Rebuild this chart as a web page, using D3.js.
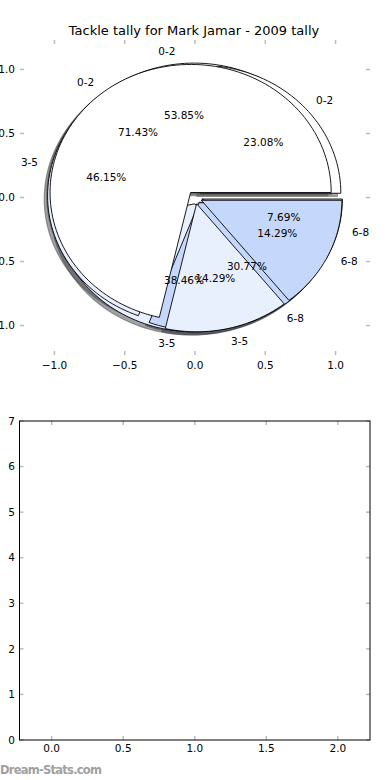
<!DOCTYPE html>
<html>
<head>
<meta charset="utf-8">
<script src="https://cdn.jsdelivr.net/npm/d3@7"></script>
<style>
  body { margin: 0; background: #fff; }
  text { font-family: "DejaVu Sans", sans-serif; fill: #000; }
</style>
</head>
<body>
<div id="chart"></div>
<script>
// tackle brackets and the three tallies (drawn in this order)
var categories = ['0-2', '3-5', '6-8'];
var tallyA = [7, 5, 1];
var tallyC = [3, 6, 4];
var tallyB = [5, 1, 1];
var sliceColors = ['#ffffff', '#e9f0fd', '#c5d8fb'];
var explode = [0.05, 0.05, 0.05];

var pieXTicks = [-1.0, -0.5, 0.0, 0.5, 1.0];
var pieYTicks = [-1.0, -0.5, 0.0, 0.5, 1.0];
var barXTicks = [0.0, 0.5, 1.0, 1.5, 2.0];
var barYTicks = [0, 1, 2, 3, 4, 5, 6, 7];

var title = 'Tackle tally for Mark Jamar - 2009 tally';
var width = 390, height = 780;

var svg = d3.select('#chart').append('svg')
  .attr('width', width)
  .attr('height', height);

// ---- top: the pies ----
var x = d3.scaleLinear().domain([-1.245, 1.245]).range([20, 370]);
var y = d3.scaleLinear().domain([-1.23, 1.23]).range([355, 40]);

svg.append('text')
  .attr('x', 194).attr('y', 35)
  .attr('text-anchor', 'middle')
  .style('font-size', '13px')
  .text(title);

function wedgePath(cx, cy, a0, a1) {
  var pts = [[cx, cy]];
  var n = Math.max(2, Math.ceil((a1 - a0) / 2));
  for (var i = 0; i <= n; i++) {
    var a = (a0 + (a1 - a0) * i / n) * Math.PI / 180;
    pts.push([cx + Math.cos(a), cy + Math.sin(a)]);
  }
  return d3.line().x(function(p) { return x(p[0]); })
    .y(function(p) { return y(p[1]); })(pts) + 'Z';
}

// matplotlib style wedges: counter-clockwise from 3 o'clock
function slices(tally) {
  var total = d3.sum(tally), acc = 0;
  return tally.map(function(v, i) {
    var a0 = acc / total * 360;
    acc += v;
    var a1 = acc / total * 360;
    var mid = (a0 + a1) / 2 * Math.PI / 180;
    return {
      cat: categories[i], color: sliceColors[i],
      a0: a0, a1: a1, mid: mid,
      cx: explode[i] * Math.cos(mid), cy: explode[i] * Math.sin(mid),
      pct: (v / total * 100).toFixed(2) + '%'
    };
  });
}

var pies = [slices(tallyA), slices(tallyC), slices(tallyB)];
var all = d3.merge(pies);

function shade(d) {
  var c = d3.rgb(d.color);
  return 'rgba(' + [c.r * 0.3, c.g * 0.3, c.b * 0.3].map(Math.round).join(',') + ',0.5)';
}

// shadows go under every wedge
svg.append('g').selectAll('path')
  .data(all)
  .enter().append('path')
  .attr('d', function(d) { return wedgePath(d.cx - 0.024, d.cy - 0.024, d.a0, d.a1); })
  .style('fill', shade)
  .style('stroke', shade)
  .style('stroke-width', 1.2);

svg.append('g').selectAll('path')
  .data(all)
  .enter().append('path')
  .attr('d', function(d) { return wedgePath(d.cx, d.cy, d.a0, d.a1); })
  .style('fill', function(d) { return d.color; })
  .style('stroke', '#000')
  .style('stroke-width', 0.9);

var labels = svg.append('g').style('font-size', '10.5px');
all.forEach(function(d) {
  var lx = d.cx + 1.1 * Math.cos(d.mid), ly = d.cy + 1.1 * Math.sin(d.mid);
  labels.append('text')
    .attr('x', x(lx)).attr('y', y(ly))
    .attr('dy', '0.35em')
    .attr('text-anchor', lx > 0 ? 'start' : 'end')
    .text(d.cat);
  var px = d.cx + 0.6 * Math.cos(d.mid), py = d.cy + 0.6 * Math.sin(d.mid);
  labels.append('text')
    .attr('x', x(px)).attr('y', y(py))
    .attr('dy', '0.35em')
    .attr('text-anchor', 'middle')
    .text(d.pct);
});

function fmt1(v) { return d3.format('.1f')(v).replace('-', '\u2212'); }

// ticks only, inside on all sides
function innerTicks(g, xs, ys, xv, yv, L, R, T, B) {
  var tg = g.append('g').style('stroke', '#bbb').style('stroke-width', 1.5);
  xv.forEach(function(v) {
    tg.append('line').attr('x1', xs(v)).attr('x2', xs(v)).attr('y1', B).attr('y2', B - 4);
    tg.append('line').attr('x1', xs(v)).attr('x2', xs(v)).attr('y1', T).attr('y2', T + 4);
  });
  yv.forEach(function(v) {
    tg.append('line').attr('x1', L).attr('x2', L + 4).attr('y1', ys(v)).attr('y2', ys(v));
    tg.append('line').attr('x1', R).attr('x2', R - 4).attr('y1', ys(v)).attr('y2', ys(v));
  });
}

var pieAxes = svg.append('g');
innerTicks(pieAxes, x, y, pieXTicks, pieYTicks, 20, 370, 40, 355);
pieAxes.selectAll('.xl').data(pieXTicks).enter().append('text')
  .attr('x', function(d) { return x(d); }).attr('y', 369)
  .attr('text-anchor', 'middle').style('font-size', '10.5px')
  .text(fmt1);
pieAxes.selectAll('.yl').data(pieYTicks).enter().append('text')
  .attr('x', 15).attr('y', function(d) { return y(d); })
  .attr('dy', '0.35em')
  .attr('text-anchor', 'end').style('font-size', '10.5px')
  .text(fmt1);

// ---- bottom: empty axes ----
var x2 = d3.scaleLinear().domain([-0.225, 2.225]).range([19.5, 370]);
var y2 = d3.scaleLinear().domain([0, 7]).range([740, 421]);
var barAxes = svg.append('g');
innerTicks(barAxes, x2, y2, barXTicks, barYTicks, 19.5, 370, 421, 740);
barAxes.append('rect')
  .attr('x', 19.5).attr('y', 421)
  .attr('width', 350.5).attr('height', 319)
  .style('fill', 'none').style('stroke', '#000').style('stroke-width', 1);
barAxes.selectAll('.xl').data(barXTicks).enter().append('text')
  .attr('x', function(d) { return x2(d); }).attr('y', 752)
  .attr('text-anchor', 'middle').style('font-size', '10.5px')
  .text(fmt1);
barAxes.selectAll('.yl').data(barYTicks).enter().append('text')
  .attr('x', 15).attr('y', function(d) { return y2(d); })
  .attr('dy', '0.35em')
  .attr('text-anchor', 'end').style('font-size', '10.5px')
  .text(function(d) { return d; });

svg.append('text')
  .attr('x', 0).attr('y', 774)
  .attr('textLength', 102)
  .style('font-size', '11.5px').style('font-weight', 'bold')
  .style('fill', '#a0a0a0')
  .text('Dream-Stats.com');
</script>
</body>
</html>
